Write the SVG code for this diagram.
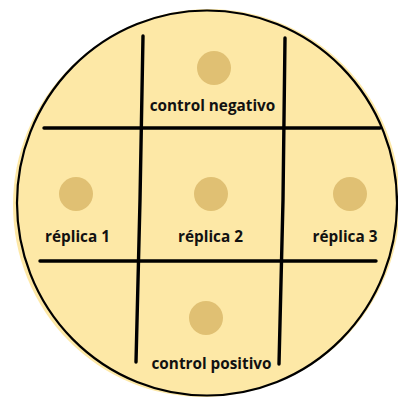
<svg xmlns="http://www.w3.org/2000/svg" width="398" height="400" viewBox="0 0 398 400">
<style>
.bg{fill:#fde8a6}
.dot{fill:#e0c073}
.ln{stroke:#000;stroke-width:3.4;stroke-linecap:round;fill:none}
.lbl{font-family:"Open Sans","Noto Sans",sans-serif;font-weight:700;font-size:15.3px;fill:#111;text-anchor:middle}
</style>
<rect width="398" height="400" fill="#fff"/>
<g id="plate">
<ellipse class="bg" cx="209" cy="202" rx="191" ry="193"/>
<ellipse class="bg" cx="203" cy="205" rx="190" ry="192"/>
<ellipse cx="207" cy="203" rx="190" ry="192.5" fill="#fde8a6" stroke="#000" stroke-width="2.2"/>
</g>
<g id="connectors">
<path class="ln" d="M143,36 L140,200 L136,362"/>
<path class="ln" d="M285,38 L283,200 L279,364"/>
<path class="ln" d="M44,128 L380,128"/>
<path class="ln" d="M40,261 L376,261"/>
</g>
<g id="control-negativo">
<circle class="dot" cx="214" cy="68" r="17"/>
<text class="lbl" x="212.5" y="111">control negativo</text>
</g>
<g id="replica-1">
<circle class="dot" cx="76" cy="194" r="17"/>
<text class="lbl" x="77.5" y="242">réplica 1</text>
</g>
<g id="replica-2">
<circle class="dot" cx="211" cy="194" r="17"/>
<text class="lbl" x="210.5" y="242">réplica 2</text>
</g>
<g id="replica-3">
<circle class="dot" cx="350" cy="194" r="17"/>
<text class="lbl" x="345" y="242">réplica 3</text>
</g>
<g id="control-positivo">
<circle class="dot" cx="206" cy="318" r="17"/>
<text class="lbl" x="211.5" y="369">control positivo</text>
</g>
</svg>
